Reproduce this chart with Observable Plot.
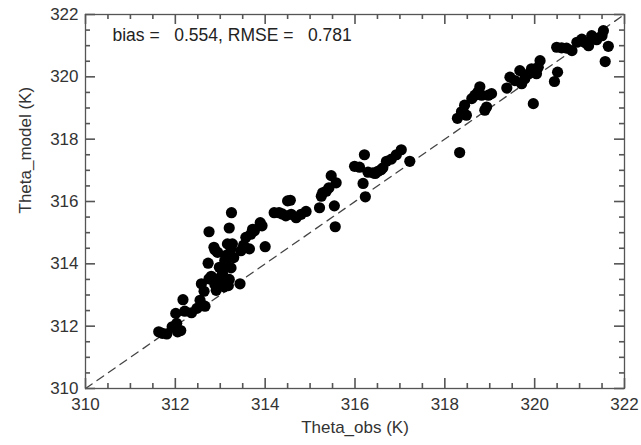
<!DOCTYPE html>
<html>
<head>
<meta charset="utf-8">
<script src="https://cdn.jsdelivr.net/npm/d3@7"></script>
<script src="https://cdn.jsdelivr.net/npm/@observablehq/plot@0.6"></script>
<style>
  html, body { margin: 0; padding: 0; background: white; }
  svg { display: block; }
</style>
</head>
<body>
<div id="chart"></div>
<script>
const thetaObs = [
  311.63, 311.71, 311.81, 311.93, 312.01, 312.03, 312.12, 312.05, 312.17, 312.21,
  312.36, 312.48, 312.55, 312.58, 312.64, 312.66, 312.73, 312.75, 312.75, 312.86,
  312.88, 312.91, 312.94, 312.98, 313.01, 313.05, 313.09, 313.10, 313.13, 313.16,
  313.20, 313.24, 313.25, 313.20, 313.24, 313.27, 313.44, 313.46, 313.52, 313.57,
  313.65, 313.68, 313.76, 313.89, 313.93, 314.00, 312.88, 313.72, 313.05, 313.15,
  312.80, 313.30, 313.18,
  314.20, 314.31, 314.46, 314.50, 314.56, 314.58, 314.69, 314.80, 314.91, 315.21,
  315.25, 315.28, 315.36, 315.42, 315.54, 315.56, 315.58, 315.47, 314.38,
  315.99, 316.10, 316.21, 316.18, 316.23, 316.29, 316.40, 316.51, 316.62, 316.70,
  316.81, 316.92, 317.03, 317.22, 316.45, 316.58,
  318.33, 318.28, 318.37, 318.44, 318.48, 318.67, 318.74, 318.78, 318.82, 318.89,
  318.93, 318.97, 319.04, 319.38, 319.45, 319.56, 319.67, 319.71, 319.78, 319.87,
  319.93, 319.97, 320.04, 320.08, 320.12, 320.44, 320.51, 320.49, 320.60, 320.71,
  320.83, 320.94, 321.05, 321.20, 321.27, 321.38, 321.50, 321.53, 321.57, 321.64,
  321.12, 321.32, 318.60
];
const thetaModel = [
  311.82, 311.77, 311.75, 311.98, 312.41, 312.09, 311.86, 311.82, 312.85, 312.48,
  312.43, 312.57, 312.83, 313.36, 313.12, 312.64, 314.02, 315.03, 313.52, 314.53,
  313.34, 313.15, 314.37, 313.89, 313.57, 313.47, 313.26, 314.11, 314.27, 314.64,
  315.15, 314.48, 315.64, 313.50, 313.87, 314.64, 313.36, 314.42, 314.60, 314.85,
  314.48, 314.95, 315.06, 315.32, 315.22, 314.55, 314.45, 315.11, 313.70, 313.95,
  313.60, 314.20, 313.30,
  315.64, 315.64, 315.54, 316.02, 316.04, 315.59, 315.48, 315.59, 315.68, 315.80,
  316.17, 316.28, 316.33, 316.44, 315.86, 315.19, 316.60, 316.83, 315.60,
  317.13, 317.10, 317.50, 316.58, 316.15, 316.94, 316.92, 316.97, 317.08, 317.29,
  317.36, 317.50, 317.66, 317.29, 316.90, 317.02,
  317.57, 318.67, 318.88, 319.09, 318.77, 319.41, 319.52, 319.68, 319.41, 318.93,
  319.03, 319.41, 319.46, 319.64, 319.99, 319.88, 320.20, 319.78, 319.94, 320.10,
  320.26, 319.14, 320.10, 320.31, 320.52, 319.85, 320.15, 320.95, 320.93, 320.92,
  320.84, 321.11, 321.21, 321.00, 321.32, 321.19, 321.32, 321.48, 320.49, 320.98,
  321.10, 321.25, 319.30
];
const axisDomain = [310, 322];
const majorTicks = [310, 312, 314, 316, 318, 320, 322];
const minorTicks = d3.range(310, 322.01, 0.5).filter(v => v % 2 !== 0);
const oneToOne = [310, 322];
const xTitle = "Theta_obs (K)";
const yTitle = "Theta_model (K)";
const statsText = "bias =\u00a0\u00a0\u00a00.554, RMSE =\u00a0\u00a0\u00a00.781";

const points = thetaObs.map((x, i) => ({x, y: thetaModel[i]}));
const diag = oneToOne.map(v => ({x: v, y: v}));
const axisGrey = "#555";

const W = 641, H = 445, mL = 85, mR = 17, mT = 14, mB = 57;
const frameW = W - mL - mR, frameH = H - mT - mB;

// inward tick marks: rules spanning the frame, shortened with insets
function ticksOn(side, values, len) {
  const c = {stroke: axisGrey, strokeWidth: 1.6};
  if (side === "bottom") return Plot.ruleX(values, {...c, insetTop: frameH - len});
  if (side === "top") return Plot.ruleX(values, {...c, insetBottom: frameH - len});
  if (side === "left") return Plot.ruleY(values, {...c, insetRight: frameW - len});
  return Plot.ruleY(values, {...c, insetLeft: frameW - len});
}

const chart = Plot.plot({
  width: W,
  height: H,
  marginLeft: mL,
  marginRight: mR,
  marginTop: mT,
  marginBottom: mB,
  x: {domain: axisDomain},
  y: {domain: axisDomain},
  style: {fontFamily: "'Liberation Sans', Arial, sans-serif", fontSize: "17px", color: "#333", background: "white"},
  marks: [
    Plot.line(diag, {x: "x", y: "y", stroke: "#444", strokeWidth: 1.3, strokeDasharray: "8,6"}),
    Plot.dot(points, {x: "x", y: "y", r: 5.6, fill: "black", stroke: "none"}),
    Plot.axisX(majorTicks, {anchor: "bottom", tickSize: 0, tickPadding: 9, label: null, fontSize: 17}),
    Plot.axisY(majorTicks, {anchor: "left", tickSize: 0, tickPadding: 7, label: null, fontSize: 17}),
    Plot.frame({stroke: axisGrey, strokeWidth: 1.3}),
    Plot.text([statsText], {frameAnchor: "top-left", dx: 27, dy: 14, textAnchor: "start", fontSize: 17.5, fill: "#222"}),
    Plot.text([xTitle], {frameAnchor: "bottom", dy: 44, fontSize: 17, fill: "#333"}),
    Plot.text([yTitle], {frameAnchor: "left", rotate: -90, dx: -60, dy: 12, fontSize: 17, fill: "#333"}),
    ticksOn("bottom", majorTicks, 10), ticksOn("bottom", minorTicks, 5),
    ticksOn("top", majorTicks, 10), ticksOn("top", minorTicks, 5),
    ticksOn("left", majorTicks, 10), ticksOn("left", minorTicks, 5),
    ticksOn("right", majorTicks, 10), ticksOn("right", minorTicks, 5)
  ]
});
document.getElementById("chart").appendChild(chart);
</script>
</body>
</html>
